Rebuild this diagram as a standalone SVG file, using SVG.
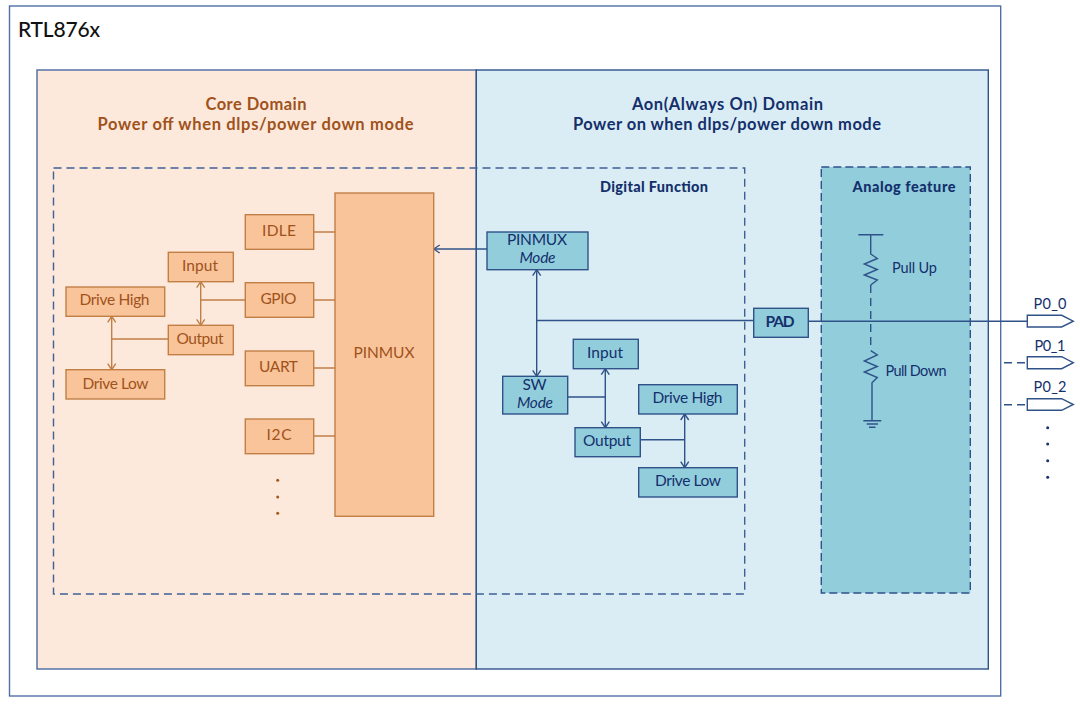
<svg xmlns="http://www.w3.org/2000/svg" width="1080" height="713" viewBox="0 0 1080 713">
<style>
text{font-family:"Lato","Open Sans","Noto Sans",sans-serif;text-anchor:middle;font-size:15.5px}
.o{fill:#a0521a}.b{fill:#14306c}
.ob{fill:#f9c49a;stroke:#c17f46;stroke-width:1.4}
.bb{fill:#92cddc;stroke:#2f5289;stroke-width:1.4}
.ol{fill:none;stroke:#c17f46;stroke-width:1.4}
.bl{fill:none;stroke:#2f5289;stroke-width:1.4}
.dash{fill:none;stroke:#3f5f96;stroke-width:1.4;stroke-dasharray:8 5}
.t{font-weight:700;font-size:16.5px}
.bt{font-weight:900;font-size:14.5px}
.s{font-size:14.5px}
</style>
<defs>
<marker id="oa" viewBox="0 0 10 10" refX="9" refY="5" markerWidth="10" markerHeight="10" markerUnits="userSpaceOnUse" orient="auto-start-reverse"><path d="M3 1L9 5L3 9" fill="none" stroke="#c17f46" stroke-width="1.4"/></marker>
<marker id="ba" viewBox="0 0 10 10" refX="9" refY="5" markerWidth="10" markerHeight="10" markerUnits="userSpaceOnUse" orient="auto-start-reverse"><path d="M3 1L9 5L3 9" fill="none" stroke="#2f5289" stroke-width="1.4"/></marker>
</defs>
<rect width="1080" height="713" fill="#fff"/>
<g id="chip"><rect x="9.5" y="6" width="991.2" height="690" fill="#fff" stroke="#5070a5" stroke-width="1.4"/>
<text x="18" y="37" style="text-anchor:start;font-size:21px;font-weight:500" fill="#111" textLength="82" lengthAdjust="spacing">RTL876x</text></g>
<g id="core-domain"><rect x="37" y="70" width="439.3" height="599" fill="#fce9dc" stroke="#4a6aa0" stroke-width="1.4"/>
<text class="o t" x="256" y="110" textLength="101" lengthAdjust="spacing">Core Domain</text>
<text class="o t" x="255.500" y="129.500" textLength="316" lengthAdjust="spacing">Power off when dlps/power down mode</text></g>
<g id="aon-domain"><rect x="476.300" y="70" width="512" height="599" fill="#dbedf4" stroke="#2f5289" stroke-width="1.4"/>
<text class="b t" x="727.500" y="110" textLength="191" lengthAdjust="spacing">Aon(Always On) Domain</text>
<text class="b t" x="727" y="129.500" textLength="308" lengthAdjust="spacing">Power on when dlps/power down mode</text></g>
<g id="digital-function"><rect x="53.500" y="168" width="691.200" height="426" class="dash"/>
<text class="b bt" x="654" y="192" textLength="108" lengthAdjust="spacing">Digital Function</text></g>
<g id="analog-feature"><rect x="821.300" y="167" width="149" height="426" fill="#92cddc" stroke="#2f5289" stroke-width="1.4" stroke-dasharray="8 4"/>
<text class="b bt" x="904" y="192" textLength="103" lengthAdjust="spacing">Analog feature</text></g>

<g id="connectors">
<path class="ol" d="M313.700 232H335M313.700 300H335M313.700 368H335M313.700 436H335M245.300 300H200.700M168.300 339H111.700"/>
<path class="ol" marker-start="url(#oa)" marker-end="url(#oa)" d="M200.700 281.700V325.300"/>
<path class="ol" marker-start="url(#oa)" marker-end="url(#oa)" d="M111.700 316.300V369.700"/>
<path class="bl" marker-end="url(#ba)" d="M487 249H433.700"/>
<path class="bl" marker-start="url(#ba)" marker-end="url(#ba)" d="M536.700 269.700V376.300"/>
<path class="bl" marker-start="url(#ba)" marker-end="url(#ba)" d="M605.300 368.700V427.700"/>
<path class="bl" marker-start="url(#ba)" marker-end="url(#ba)" d="M684.700 414V467.700"/>
<path class="bl" d="M536.700 320.500H753.700M567.700 397H605.300M640.300 439.700H684.700M808.300 321.300H1027.300"/>
<path class="bl" stroke-dasharray="8 5" d="M1004 362.700H1027.300M1004 404.700H1027.300"/>
<path class="bl" d="M858.300 234.700H883.300M870.700 234.700V254L877.300 258.500L864.300 264L877.300 269.500L864.300 275L877.300 280L870.700 285"/>
<path class="bl" stroke-dasharray="8 5" d="M870.700 285V350"/>
<path class="bl" d="M870.700 350.700L877.300 355L864.300 361L877.300 366.500L864.300 372L877.300 377.500L872 382.700V420.700M863.300 420.700H881.300M866.700 424H878M869 427.300H875.500"/>
</g>

<g id="n-idle"><rect class="ob" x="245.300" y="214.700" width="68.400" height="34.600"/><text class="o" x="279" y="236" textLength="34" lengthAdjust="spacing">IDLE</text></g>
<g id="n-gpio"><rect class="ob" x="245.300" y="282.700" width="68.400" height="34.600"/><text class="o" x="278.500" y="304" textLength="36" lengthAdjust="spacing">GPIO</text></g>
<g id="n-uart"><rect class="ob" x="245.300" y="351" width="68.400" height="34.700"/><text class="o" x="278.500" y="372" textLength="39" lengthAdjust="spacing">UART</text></g>
<g id="n-i2c"><rect class="ob" x="245.300" y="419" width="68.400" height="34.700"/><text class="o" x="279" y="440" textLength="25" lengthAdjust="spacing">I2C</text></g>
<g id="n-pinmux"><rect class="ob" x="335" y="193" width="98.700" height="323.300"/><text class="o" x="384" y="358" textLength="61" lengthAdjust="spacing">PINMUX</text></g>
<g id="n-input"><rect class="ob" x="168.300" y="252.300" width="65" height="29.400"/><text class="o" x="200" y="271" textLength="36" lengthAdjust="spacing">Input</text></g>
<g id="n-output"><rect class="ob" x="168.300" y="325.300" width="65" height="29.400"/><text class="o" x="200" y="344" textLength="47" lengthAdjust="spacing">Output</text></g>
<g id="n-drive-high"><rect class="ob" x="66" y="287" width="98.700" height="29.300"/><text class="o" x="114.500" y="305" textLength="70" lengthAdjust="spacing">Drive High</text></g>
<g id="n-drive-low"><rect class="ob" x="66" y="369.700" width="98.700" height="29.300"/><text class="o" x="115.500" y="389" textLength="66" lengthAdjust="spacing">Drive Low</text></g>
<g id="dots-core" fill="#a5581c"><circle cx="277.700" cy="480.300" r="1.500"/><circle cx="277.700" cy="497" r="1.500"/><circle cx="277.700" cy="513.300" r="1.500"/></g>

<g id="b-pinmux-mode"><rect class="bb" x="487" y="232" width="101" height="37.700"/><text class="b" x="537" y="245" textLength="60" lengthAdjust="spacing">PINMUX</text><text class="b" x="537.500" y="263" textLength="36" lengthAdjust="spacing" font-style="italic">Mode</text></g>
<g id="b-sw-mode"><rect class="bb" x="502.700" y="376.300" width="65" height="37.700"/><text class="b" x="534.500" y="390" textLength="24" lengthAdjust="spacing">SW</text><text class="b" x="535" y="408" textLength="36" lengthAdjust="spacing" font-style="italic">Mode</text></g>
<g id="b-input"><rect class="bb" x="573.300" y="339.300" width="65" height="29.400"/><text class="b" x="605" y="358" textLength="36" lengthAdjust="spacing">Input</text></g>
<g id="b-output"><rect class="bb" x="575" y="427.700" width="65.300" height="29"/><text class="b" x="607" y="446" textLength="48" lengthAdjust="spacing">Output</text></g>
<g id="b-drive-high"><rect class="bb" x="638.700" y="384.700" width="98.600" height="29.300"/><text class="b" x="687.500" y="403" textLength="70" lengthAdjust="spacing">Drive High</text></g>
<g id="b-drive-low"><rect class="bb" x="638.700" y="467.700" width="98.600" height="29.300"/><text class="b" x="688" y="486" textLength="66" lengthAdjust="spacing">Drive Low</text></g>
<g id="b-pad"><rect class="bb" x="753.700" y="308.300" width="54.600" height="29"/><text class="b" x="780" y="327" font-weight="700" textLength="29" lengthAdjust="spacing">PAD</text></g>
<text class="b s" x="914.500" y="273" textLength="45" lengthAdjust="spacing">Pull Up</text>
<text class="b s" x="916" y="376" textLength="61" lengthAdjust="spacing">Pull Down</text>

<g id="p0-0"><path fill="#fff" stroke="#2f5289" stroke-width="1.400" d="M1027.300 315.300H1061.700L1073.300 321.200L1061.700 327H1027.300Z"/><text class="b s" x="1050" y="309" textLength="33" lengthAdjust="spacing">P0_0</text></g>
<g id="p0-1"><path fill="#fff" stroke="#2f5289" stroke-width="1.400" d="M1027.300 356.700H1061.700L1073.300 362.700L1061.700 368.700H1027.300Z"/><text class="b s" x="1050" y="351" textLength="31" lengthAdjust="spacing">P0_1</text></g>
<g id="p0-2"><path fill="#fff" stroke="#2f5289" stroke-width="1.400" d="M1027.300 398.700H1061.700L1073.300 404.500L1061.700 410.300H1027.300Z"/><text class="b s" x="1050" y="392" textLength="33" lengthAdjust="spacing">P0_2</text></g>
<g id="dots-ports" fill="#17326f"><circle cx="1047.700" cy="427.700" r="1.500"/><circle cx="1047.700" cy="444" r="1.500"/><circle cx="1047.700" cy="460.700" r="1.500"/><circle cx="1047.700" cy="477.300" r="1.500"/></g>
</svg>
